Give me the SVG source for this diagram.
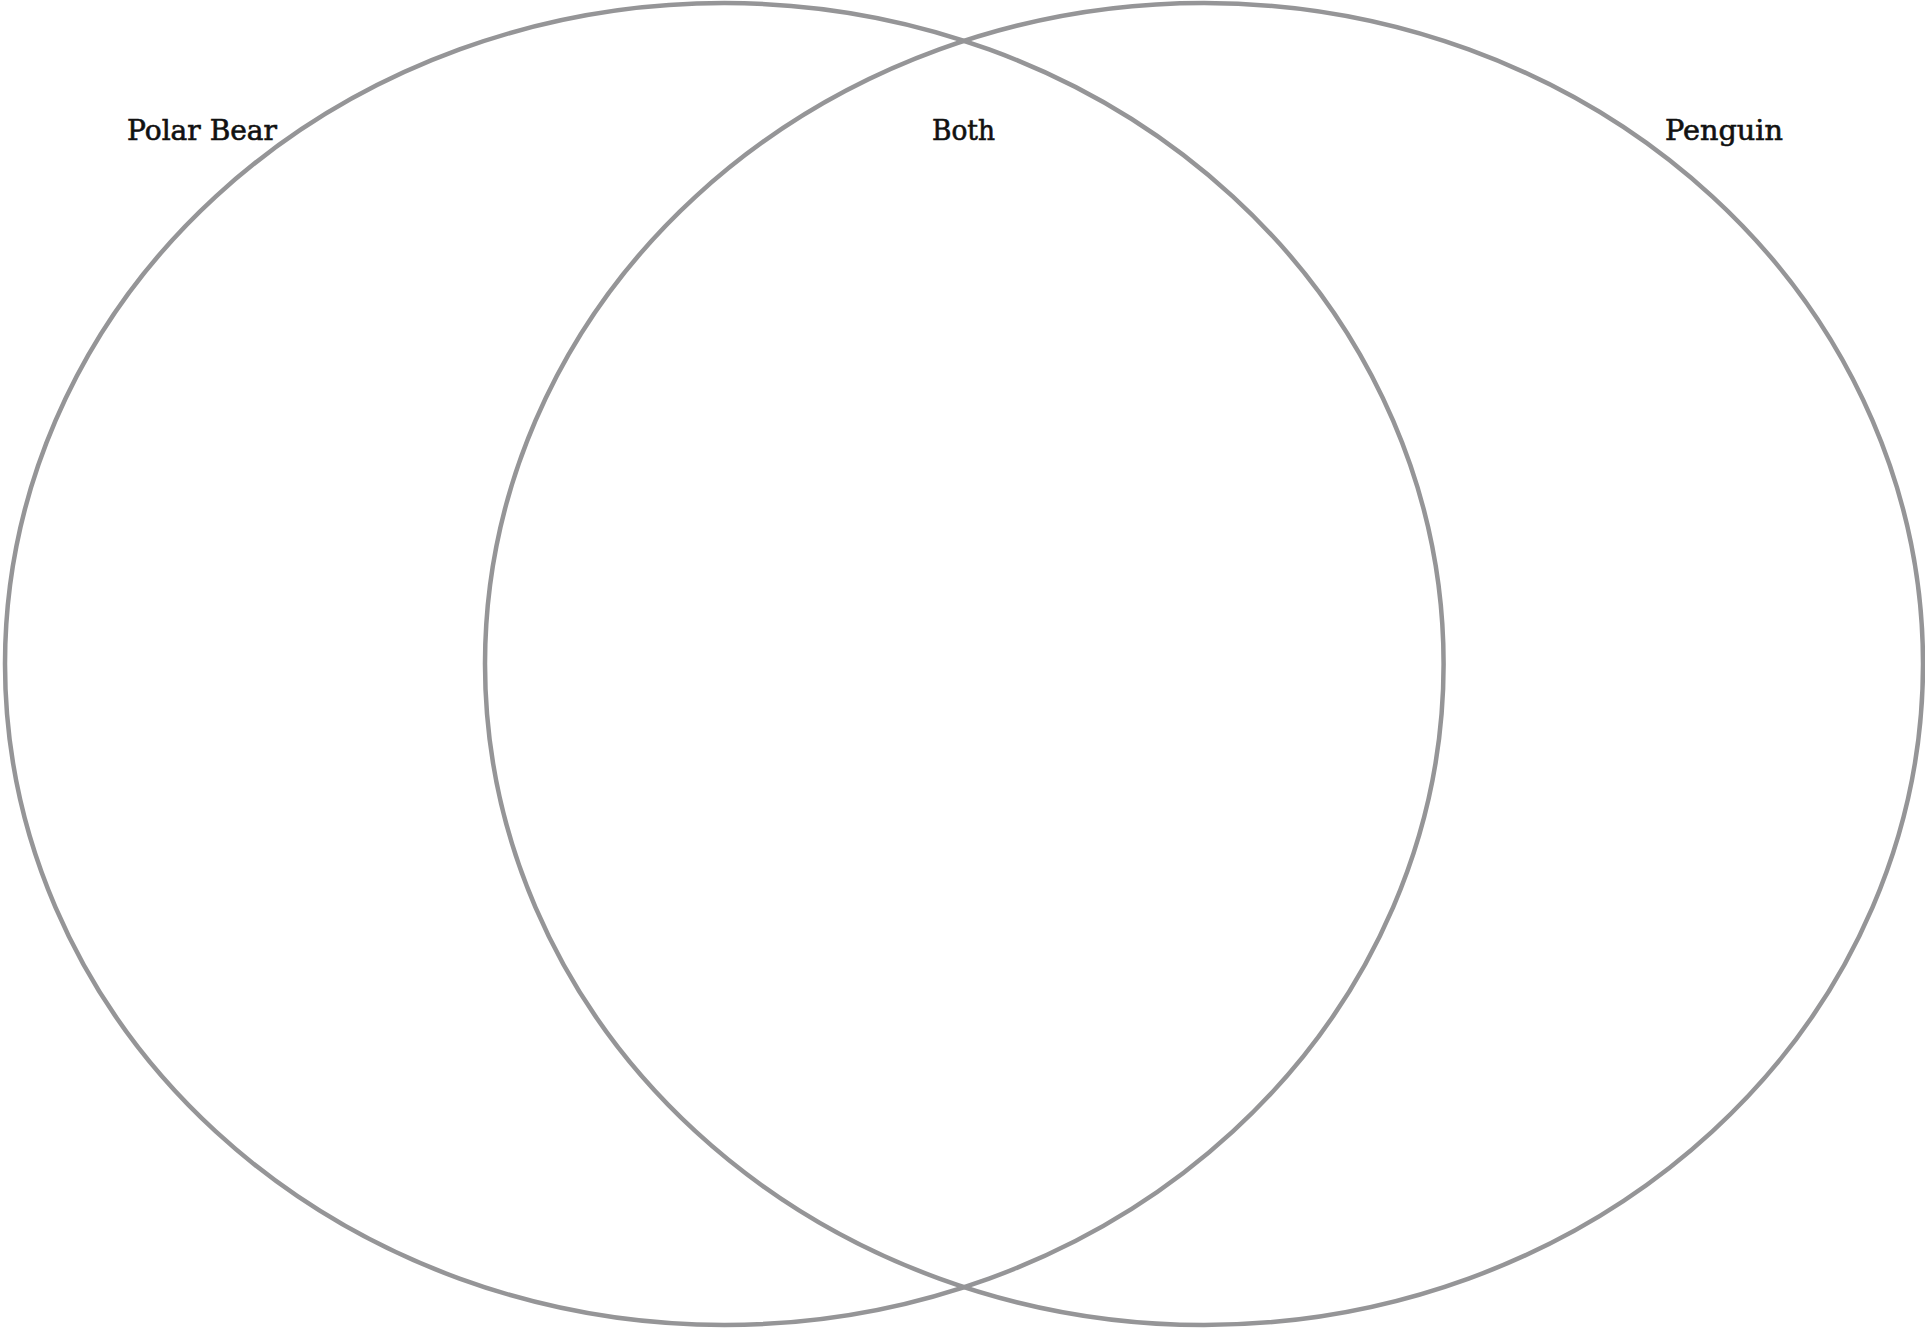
<svg xmlns="http://www.w3.org/2000/svg" width="1925" height="1328" viewBox="0 0 1925 1328">
<style>
.c{fill:none;stroke:#959597;stroke-width:4.5}
.t{font-family:"DejaVu Serif","Liberation Serif",serif;font-size:27px;fill:#111;stroke:#111;stroke-width:0.6}
</style>
<rect width="1925" height="1328" fill="#fff"/>
<g id="polar-bear"><ellipse class="c" cx="724.3" cy="664" rx="719.3" ry="661"/><text class="t" x="127" y="140" textLength="150" lengthAdjust="spacingAndGlyphs">Polar Bear</text></g>
<g id="penguin"><ellipse class="c" cx="1204" cy="664" rx="719" ry="661"/><text class="t" x="1665" y="140" textLength="118" lengthAdjust="spacingAndGlyphs">Penguin</text></g>
<g id="both"><text class="t" x="932" y="140" textLength="63" lengthAdjust="spacingAndGlyphs">Both</text></g>
<g id="connectors"/>
</svg>
